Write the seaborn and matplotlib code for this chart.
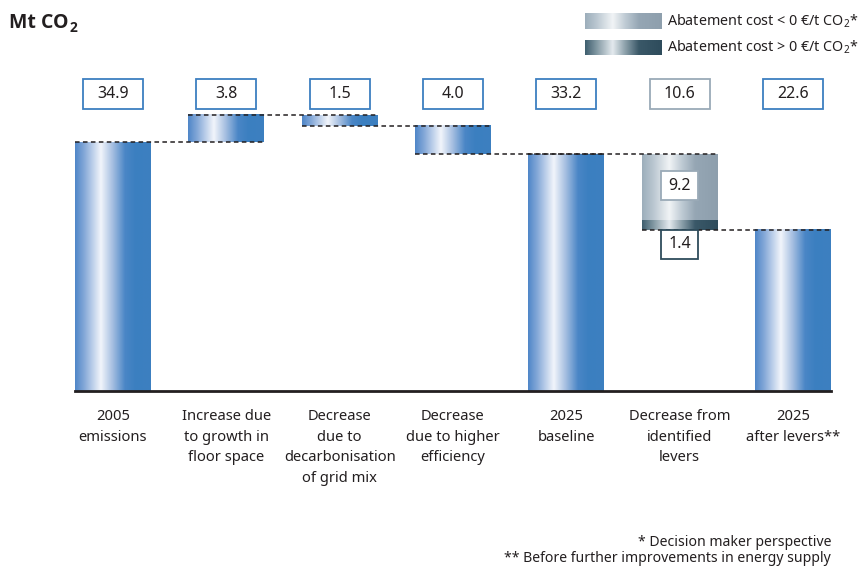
import numpy as np
import pandas as pd
import matplotlib
matplotlib.use("Agg")
import matplotlib.pyplot as plt
import seaborn as sns
from matplotlib.colors import LinearSegmentedColormap
from matplotlib.patches import Rectangle

# ---- data ---------------------------------------------------------------
categories = [
    "2005\nemissions",
    "Increase due\nto growth in\nfloor space",
    "Decrease\ndue to\ndecarbonisation\nof grid mix",
    "Decrease\ndue to higher\nefficiency",
    "2025\nbaseline",
    "Decrease from\nidentified\nlevers",
    "2025\nafter levers**",
]
values = [34.9, 3.8, -1.5, -4.0, 33.2, -10.6, 22.6]
is_total = [True, False, False, False, True, False, True]
# split of the lever bar: abatement cost < 0 (upper), > 0 (lower)
lever_split = [9.2, 1.4]
legend_labels = ["Abatement cost < 0 €/t CO$_2$*", "Abatement cost > 0 €/t CO$_2$*"]
footnotes = ["* Decision maker perspective",
             "** Before further improvements in energy supply"]
unit_text, unit_sub = "Mt CO", "2"

# ---- style --------------------------------------------------------------
sns.set_theme(style="white")
plt.rcParams["font.family"] = ["Noto Sans", "DejaVu Sans"]
plt.rcParams["mathtext.fontset"] = "custom"
plt.rcParams["mathtext.rm"] = "Noto Sans"
TEXT = "#231f20"

blue_cmap = LinearSegmentedColormap.from_list("blue", [
    (0.00, "#4f86c8"), (0.12, "#84a8d8"), (0.34, "#f2f5fb"),
    (0.50, "#a3bde0"), (0.66, "#4a86c6"), (0.80, "#3b7fc0"), (1.00, "#3d80c0")])
grey_cmap = LinearSegmentedColormap.from_list("grey", [
    (0.00, "#9caebb"), (0.14, "#b8c5cf"), (0.36, "#f1f4f6"),
    (0.52, "#c0ccd5"), (0.70, "#95a6b4"), (1.00, "#8e9fad")])
dark_cmap = LinearSegmentedColormap.from_list("dark", [
    (0.00, "#3e5e6e"), (0.14, "#7d949f"), (0.36, "#e4eaee"),
    (0.52, "#8ea2ac"), (0.70, "#3a5868"), (1.00, "#2e4c5c")])
BLUE_EDGE = "#3d7fc0"
GREY_EDGE = "#9aaab7"
DARK_EDGE = "#2e4c5c"

ramp = np.linspace(0, 1, 256)[None, :]

# ---- waterfall geometry -------------------------------------------------
bottoms, heights, levels = [], [], []
running = 0.0
for v, tot in zip(values, is_total):
    if tot:
        b, h, running = 0.0, v, v
    else:
        new = running + v
        b, h, running = min(running, new), abs(v), new
    bottoms.append(b)
    heights.append(h)
    levels.append(running)

df = pd.DataFrame({"category": categories, "height": heights})

# ---- figure -------------------------------------------------------------
W, H = 858, 566
fig = plt.figure(figsize=(W / 100, H / 100), dpi=100)
ax = fig.add_axes([75 / W, 1 - 391 / H, 756 / W, 331 / H])

bar_w = 0.67
sns.barplot(data=df, x="category", y="height", order=categories,
            width=bar_w, errorbar=None, color="#3d7fc0", ax=ax, zorder=1)
patches = list(ax.containers[0])
for p, b in zip(patches, bottoms):
    p.set_y(b)
    p.set_facecolor("none")
    p.set_edgecolor("none")

ax.set_xlim(-bar_w / 2, len(categories) - 1 + bar_w / 2)
ax.set_ylim(0, 46.42)


def fill_gradient(x0, x1, y0, y1, cmap):
    ax.imshow(ramp, cmap=cmap, extent=(x0, x1, y0, y1), aspect="auto",
              interpolation="bilinear", zorder=2)


lever_idx = 5
for i, p in enumerate(patches):
    x0, x1 = p.get_x(), p.get_x() + p.get_width()
    y0, y1 = p.get_y(), p.get_y() + p.get_height()
    if i == lever_idx:
        split = y0 + lever_split[1]
        fill_gradient(x0, x1, y0, split, dark_cmap)
        fill_gradient(x0, x1, split, y1, grey_cmap)
    else:
        fill_gradient(x0, x1, y0, y1, blue_cmap)

# dashed connectors between neighbouring bars
for i in range(len(patches) - 1):
    xa = patches[i].get_x()
    xb = patches[i + 1].get_x() + patches[i + 1].get_width()
    ax.plot([xa, xb], [levels[i], levels[i]], color="#231f20", lw=1.1,
            ls=(0, (3, 2.2)), zorder=3, solid_capstyle="butt")

# value boxes above the bars
box_w, box_h, box_y = 0.53, 4.2, 41.65
for i, v in enumerate(values):
    edge = GREY_EDGE if i == lever_idx else BLUE_EDGE
    ax.add_patch(Rectangle((i - box_w / 2, box_y - box_h / 2), box_w, box_h,
                           facecolor="white", edgecolor=edge, lw=1.3,
                           zorder=4, clip_on=False))
    ax.text(i, box_y, f"{abs(v):.1f}", ha="center", va="center",
            fontsize=11.5, color=TEXT, zorder=5)

# small boxes for the lever split
sb_w, sb_h = 0.327, 4.07
lev_top = bottoms[lever_idx] + heights[lever_idx]
lev_bot = bottoms[lever_idx]
split_boxes = [(lever_split[0], lev_top - 4.4, GREY_EDGE),
               (lever_split[1], lev_bot - 2.0, DARK_EDGE)]
for val, yc, edge in split_boxes:
    ax.add_patch(Rectangle((lever_idx - sb_w / 2, yc - sb_h / 2), sb_w, sb_h,
                           facecolor="white", edgecolor=edge, lw=1.3,
                           zorder=4, clip_on=False))
    ax.text(lever_idx, yc, f"{val:.1f}", ha="center", va="center",
            fontsize=11.5, color=TEXT, zorder=5)

# axes cosmetics
sns.despine(ax=ax, left=True)
ax.spines["bottom"].set_color("#231f20")
ax.spines["bottom"].set_linewidth(2.0)
ax.spines["bottom"].set_zorder(6)
ax.set_yticks([])
ax.set_xlabel("")
ax.set_ylabel("")
ax.tick_params(axis="x", length=0, pad=13, labelsize=10.6, labelcolor=TEXT)
for lbl in ax.get_xticklabels():
    lbl.set_linespacing(1.52)
    lbl.set_va("top")
ax.grid(False)

# unit label: bold "Mt CO" with a lowered, smaller "2"
bold_family = ["Open Sans", "Lato", "Liberation Sans", "DejaVu Sans"]
t = fig.text(9 / W, 1 - 28 / H, unit_text, fontsize=14, fontweight="bold",
             family=bold_family, color=TEXT, ha="left", va="baseline")
fig.canvas.draw()
bb = t.get_window_extent()
fig.text((bb.x1 + 1) / W, 1 - 32 / H, unit_sub, fontsize=10,
         fontweight="bold", family=bold_family, color=TEXT,
         ha="left", va="baseline")

# legend swatches
for k, (label, cmap) in enumerate(zip(legend_labels, [grey_cmap, dark_cmap])):
    top = 13 + 26.5 * k
    lax = fig.add_axes([585 / W, 1 - (top + 16) / H, 77 / W, 16 / H])
    lax.imshow(ramp, cmap=cmap, aspect="auto", interpolation="bilinear")
    lax.set_axis_off()
    fig.text(667 / W, 1 - (top + 8) / H, label, fontsize=10.3, color=TEXT,
             ha="left", va="center")

# footnotes
fig.text(831 / W, 1 - 546 / H, footnotes[0], fontsize=10.1, color=TEXT,
         ha="right", va="baseline")
fig.text(831 / W, 1 - 562 / H, footnotes[1], fontsize=10.1, color=TEXT,
         ha="right", va="baseline")

fig.savefig("out.png", dpi=100, facecolor="white")
